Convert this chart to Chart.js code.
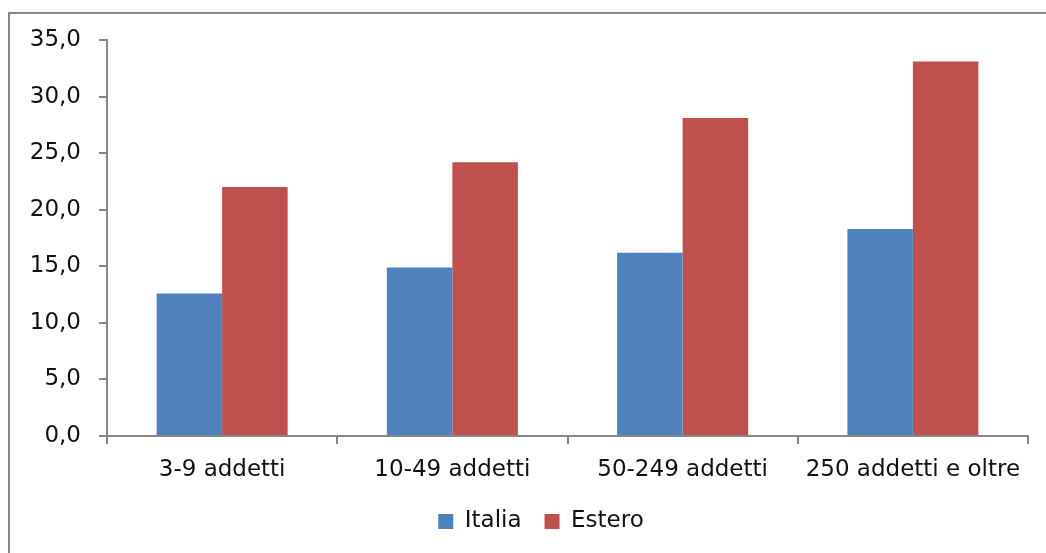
<!DOCTYPE html>
<html>
<head>
<meta charset="utf-8">
<script src="https://cdn.jsdelivr.net/npm/chart.js@4"></script>
<style>
  html, body { margin: 0; padding: 0; background: #fff; overflow: hidden; width: 1046px; height: 553px; }
  #box { position: absolute; left: 8px; top: 12px; width: 1060px; height: 700px; border: 2px solid #878787; background: #fff; }
  #wrap { position: absolute; left: 0; top: 0; width: 1060px; height: 539px; }
</style>
</head>
<body>
<div id="box"><div id="wrap"><canvas id="c"></canvas></div></div>
<script>
const categories = ['3-9 addetti', '10-49 addetti', '50-249 addetti', '250 addetti e oltre'];
const italiaValues = [12.6, 14.9, 16.2, 18.3];
const esteroValues = [22.0, 24.2, 28.1, 33.1];
const seriesNames = ['Italia', 'Estero'];
const yTickLabels = ['0,0', '5,0', '10,0', '15,0', '20,0', '25,0', '30,0', '35,0'];

const axisColor = '#878787';
const fontFamily = '"DejaVu Sans", Verdana, sans-serif';

const legendShift = {
  id: 'legendShift',
  afterLayout(chart) {
    if (chart.legend) { chart.legend.left += 22; chart.legend.right += 22; }
  }
};

new Chart(document.getElementById('c'), {
  type: 'bar',
  data: {
    labels: categories,
    datasets: [
      { label: seriesNames[0], data: italiaValues, backgroundColor: '#4F81BD', borderWidth: 0 },
      { label: seriesNames[1], data: esteroValues, backgroundColor: '#C0504D', borderWidth: 0 }
    ]
  },
  plugins: [legendShift],
  options: {
    responsive: true,
    maintainAspectRatio: false,
    animation: false,
    devicePixelRatio: 1,
    layout: { padding: { left: 0, right: 42, top: 26, bottom: 10 } },
    datasets: { bar: { categoryPercentage: 0.569, barPercentage: 1.0 } },
    plugins: {
      title: { display: false },
      tooltip: { enabled: false },
      legend: {
        position: 'bottom',
        labels: {
          color: '#111',
          font: { family: fontFamily, size: 23 },
          boxWidth: 15,
          boxHeight: 15,
          padding: 23
        }
      }
    },
    scales: {
      x: {
        offset: true,
        grid: { display: true, offset: true, drawOnChartArea: false, drawTicks: true, tickLength: 8, color: axisColor, lineWidth: 2 },
        border: { display: true, color: axisColor, width: 2 },
        ticks: { color: '#111', font: { family: fontFamily, size: 23 }, padding: 12, maxRotation: 0, autoSkip: false },
        afterFit: (s) => { s.height = 51; s.paddingLeft = 0; s.paddingRight = 0; }
      },
      y: {
        min: 0,
        max: 35,
        grid: { display: true, drawOnChartArea: false, drawTicks: true, tickLength: 8, color: axisColor, lineWidth: 2 },
        border: { display: true, color: axisColor, width: 2 },
        ticks: {
          stepSize: 5,
          color: '#111',
          font: { family: fontFamily, size: 23 },
          padding: 18,
          callback: (v, i) => yTickLabels[i]
        },
        afterFit: (s) => { s.width = 97; s.paddingTop = 0; s.paddingBottom = 0; }
      }
    }
  }
});
</script>
</body>
</html>
